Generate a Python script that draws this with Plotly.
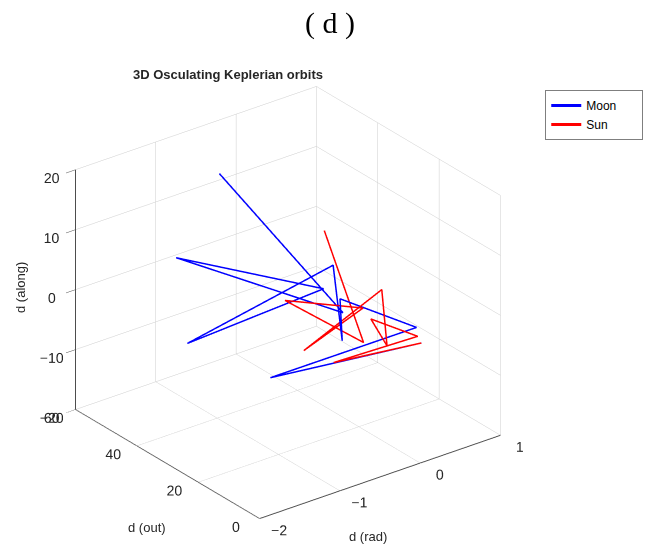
import plotly.graph_objects as go

# Moon differences (d rad, d out, d along)
moon_rad = [-0.59, -0.58, -1.32, -0.63, -1.37, -0.32, -0.78, -0.54, 0.26, -0.91, 0.13]
moon_out = [50, 10, 45, 15, 40, 20, 5, 12, 8, 25, 3]
moon_along = [15.85, 4.73, 6.72, 7.44, -5.82, 8.42, 2.50, 6.26, -1.01, -9.13, -1.48]

# Sun differences
sun_rad = [-0.43, -0.40, -1.11, -0.33, -1.22, -0.02, -0.26, -0.27, 0.16, -0.81, 0.13]
sun_out = [20, 8, 15, 10, 6, 12, 4, 9, 5, 7, 3]
sun_along = [14.70, -0.46, 7.71, 4.35, 2.59, 5.38, -0.46, 2.55, -1.12, -1.61, -1.48]

x_ticks = [-2, -1, 0, 1]
y_ticks = [0, 20, 40, 60]
z_ticks = [-20, -10, 0, 10, 20]

fig = go.Figure()
fig.add_trace(go.Scatter3d(x=moon_rad, y=moon_out, z=moon_along, mode="lines",
                           name="Moon\u00a0\u00a0\u00a0\u00a0\u00a0\u00a0",
                           line=dict(color="rgb(0,0,255)", width=3)))
fig.add_trace(go.Scatter3d(x=sun_rad, y=sun_out, z=sun_along, mode="lines",
                           name="Sun", line=dict(color="rgb(255,0,0)", width=3)))

axis_common = dict(showbackground=False, gridcolor="#cdcdcd", gridwidth=1,
                   showline=True, linecolor="#4d4d4d", linewidth=2,
                   ticks="outside", tickangle=0,
                   tickfont=dict(family="Liberation Sans, Arial", size=13, color="#262626"),
                   zeroline=False, showspikes=False, title=dict(text=""))

d = (-0.5415, -0.7087, 0.4527)
k = 2.0
s = 1.23
fig.update_layout(
    width=653, height=549,
    margin=dict(l=0, r=0, t=0, b=0),
    paper_bgcolor="white",
    font=dict(family="Liberation Sans, Arial", size=13, color="#262626"),
    scene=dict(
        domain=dict(x=[0, 0.882], y=[0, 0.898]),
        xaxis=dict(axis_common, range=[-2, 1], tickvals=x_ticks,
                   ticklen=12, tickcolor="rgba(0,0,0,0)"),
        yaxis=dict(axis_common, range=[0, 60], tickvals=y_ticks,
                   ticklen=14, tickcolor="rgba(0,0,0,0)"),
        zaxis=dict(axis_common, range=[-20, 20], tickvals=z_ticks,
                   ticklen=4, tickcolor="#4d4d4d"),
        aspectmode="manual",
        aspectratio=dict(x=1 * s, y=1 * s, z=0.887 * s),
        camera=dict(eye=dict(x=d[0] * k, y=d[1] * k, z=d[2] * k),
                    up=dict(x=0, y=0, z=1), center=dict(x=0, y=0, z=0),
                    projection=dict(type="orthographic")),
    ),
    legend=dict(x=0.835, y=0.836, xanchor="left", yanchor="top",
                bordercolor="#7f7f7f", borderwidth=1, bgcolor="white",
                font=dict(size=12, color="#000000"), itemwidth=30,
                tracegroupgap=0),
    annotations=[
        dict(text="( d )", x=0.505, y=0.992, xref="paper", yref="paper",
             xanchor="center", yanchor="top", showarrow=False,
             font=dict(family="Liberation Serif, DejaVu Serif", size=30, color="black")),
        dict(text="<b>3D Osculating Keplerian orbits</b>", x=0.349, y=0.865,
             xref="paper", yref="paper", xanchor="center", yanchor="middle",
             showarrow=False, font=dict(family="Liberation Sans, Arial", size=13, color="#262626")),
        dict(text="d (rad)", x=368 / 653, y=1 - 536 / 549, xref="paper", yref="paper",
             xanchor="center", yanchor="middle", showarrow=False,
             font=dict(size=13, color="#262626")),
        dict(text="d (out)", x=147 / 653, y=1 - 527 / 549, xref="paper", yref="paper",
             xanchor="center", yanchor="middle", showarrow=False,
             font=dict(size=13, color="#262626")),
        dict(text="d (along)", x=20 / 653, y=1 - 288 / 549, xref="paper", yref="paper",
             xanchor="center", yanchor="middle", showarrow=False, textangle=-90,
             font=dict(size=13, color="#262626")),
    ],
)

fig.write_html("out.html")
